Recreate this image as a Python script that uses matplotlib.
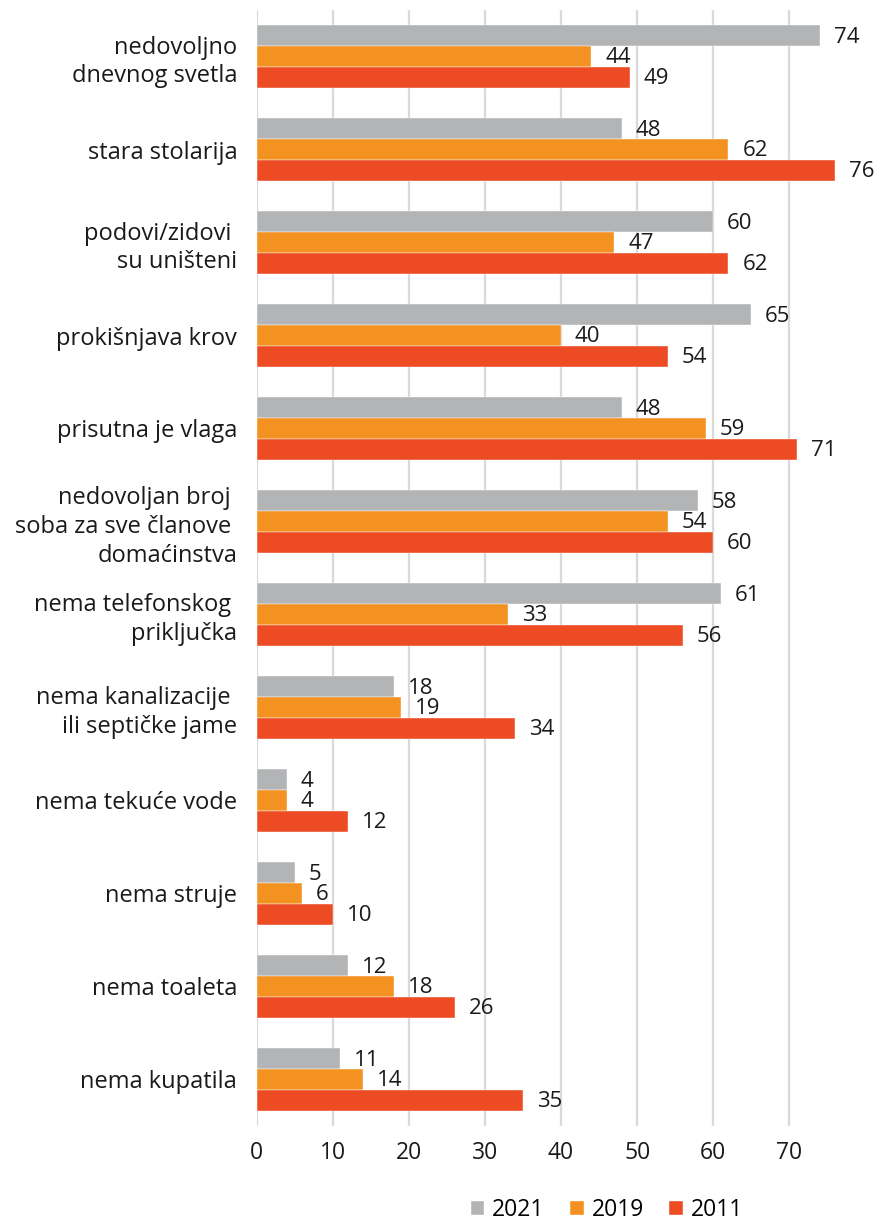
import numpy as np
import matplotlib.pyplot as plt

plt.rcParams['font.family'] = ['Open Sans', 'DejaVu Sans']

# Kategorije (odozgo nadole)
kategorije = [
    'nedovoljno\ndnevnog svetla',
    'stara stolarija',
    'podovi/zidovi \nsu uništeni',
    'prokišnjava krov',
    'prisutna je vlaga',
    'nedovoljan broj \nsoba za sve članove \ndomaćinstva',
    'nema telefonskog \npriključka',
    'nema kanalizacije \nili septičke jame',
    'nema tekuće vode',
    'nema struje',
    'nema toaleta',
    'nema kupatila',
]

godine = ['2021', '2019', '2011']
v2021 = [74, 48, 60, 65, 48, 58, 61, 18, 4, 5, 12, 11]
v2019 = [44, 62, 47, 40, 59, 54, 33, 19, 4, 6, 18, 14]
v2011 = [49, 76, 62, 54, 71, 60, 56, 34, 12, 10, 26, 35]

boje = ['#B3B4B6', '#F39221', '#EC4B24']
serije = [v2021, v2019, v2011]

fig = plt.figure(figsize=(8.82, 12.22), dpi=100)
ax = fig.add_axes([0.291, 0.0786, 0.7075, 0.9132])

y = np.arange(len(kategorije))
h = 0.224
for k, (vals, boja, god) in enumerate(zip(serije, boje, godine)):
    pos = y + (k - 1) * h
    ax.barh(pos, vals, height=h, color=boja, label=god,
            edgecolor='white', linewidth=0.3, zorder=3)
    for p, v in zip(pos, vals):
        ax.annotate(str(v), (v, p), xytext=(10, -1), textcoords='offset points',
                    va='center', ha='left', fontsize=16, color='#1a1a1a')

ax.set_ylim(11.5, -0.5)
ax.set_xlim(0, 82)
ax.set_xticks(range(0, 80, 10))
ax.set_yticks(y)
ax.set_yticklabels(kategorije, fontsize=17, linespacing=1.27, color='#1a1a1a')
ax.tick_params(axis='both', length=0)
ax.tick_params(axis='y', pad=14)
ax.tick_params(axis='x', pad=11, labelsize=16.5, labelcolor='#1a1a1a')
ax.grid(axis='x', color='#D9D9D9', linewidth=1.6, zorder=0)
for s in ax.spines.values():
    s.set_visible(False)

fig.legend(loc='center', bbox_to_anchor=(0.688, 0.0098), ncol=3, frameon=False,
           fontsize=16.5, handlelength=0.6, handleheight=0.6, handletextpad=0.35,
           columnspacing=1.1, borderaxespad=0)

fig.savefig('out.png', dpi=100)
